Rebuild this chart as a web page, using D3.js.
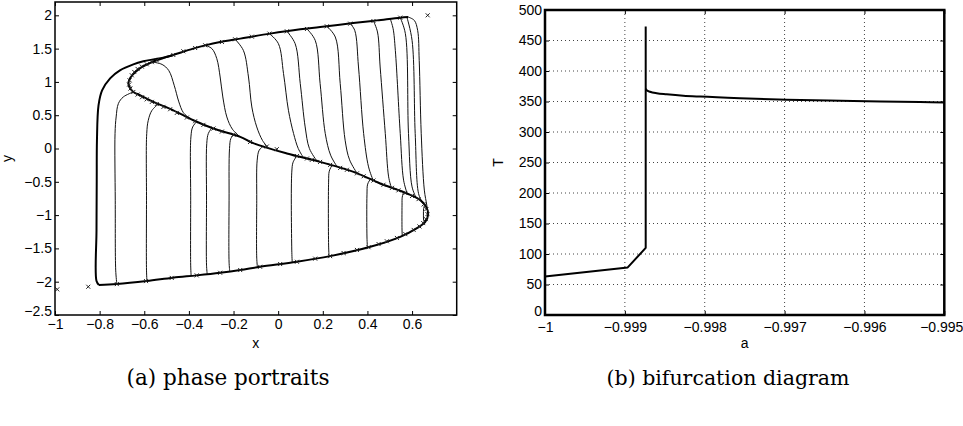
<!DOCTYPE html>
<html>
<head>
<meta charset="utf-8">
<script src="https://cdn.jsdelivr.net/npm/d3@7"></script>
<style>
  body { margin: 0; background: #fff; }
  svg { display: block; }
</style>
</head>
<body>
<svg id="fig" width="963" height="426"></svg>
<script>
// ---------- (a) phase portraits : points in (x, y) ----------
const xTicksA = [-1, -0.8, -0.6, -0.4, -0.2, 0, 0.2, 0.4, 0.6];
const yTicksA = [-2.5, -2, -1.5, -1, -0.5, 0, 0.5, 1, 1.5, 2];

// slow manifold (S-shaped branch), traced from lower-left corner to upper-right
const sCurve = [
  [-0.803,-2.050],[-0.723,-2.035],[-0.589,-1.990],[-0.471,-1.940],[-0.365,-1.905],
  [-0.260,-1.866],[-0.170,-1.825],[-0.081,-1.776],[0.084,-1.701],[0.233,-1.616],
  [0.413,-1.476],[0.547,-1.326],[0.622,-1.196],[0.659,-1.101],[0.672,-0.990],
  [0.664,-0.880],[0.637,-0.775],[0.577,-0.675],[0.457,-0.525],[0.338,-0.351],
  [0.188,-0.201],[0.039,-0.075],[-0.112,0.080],[-0.170,0.174],[-0.290,0.300],
  [-0.380,0.424],[-0.470,0.574],[-0.559,0.699],[-0.619,0.800],[-0.649,0.849],
  [-0.666,0.919],[-0.671,0.979],[-0.661,1.069],[-0.641,1.144],[-0.610,1.225],
  [-0.580,1.275],[-0.550,1.318],[-0.515,1.358],[-0.470,1.405],[-0.381,1.500],[-0.327,1.549],
  [-0.260,1.599],[-0.170,1.650],[-0.036,1.725],[0.099,1.790],[0.188,1.824],
  [0.336,1.884],[0.443,1.924],[0.547,1.965],[0.583,1.974]
];

// outer jump along the left edge
const leftEdge = [
  [-0.803,-2.050],[-0.814,-1.990],[-0.814,-1.225],[-0.813,-0.475],[-0.812,0.125],
  [-0.805,0.649],[-0.789,0.874],[-0.753,1.054],[-0.709,1.174],[-0.649,1.264],
  [-0.604,1.309],[-0.560,1.338],[-0.515,1.365],[-0.470,1.405]
];

// trajectories dropping from the upper branch to the middle branch
const upperPaths = [
  [[-0.566,1.300],[-0.520,1.262],[-0.490,1.170],[-0.466,0.950],[-0.445,0.700],[-0.425,0.540],[-0.395,0.449]],
  [[-0.327,1.550],[-0.297,1.500],[-0.275,1.350],[-0.260,1.074],[-0.248,0.774],[-0.230,0.474],[-0.205,0.290],[-0.170,0.174]],
  [[-0.193,1.640],[-0.156,1.474],[-0.133,1.074],[-0.118,0.624],[-0.096,0.324],[-0.070,0.120],[-0.045,0.012]],
  [[-0.039,1.725],[0.001,1.575],[0.024,1.125],[0.046,0.574],[0.069,0.225],[0.090,0.000],[0.113,-0.135]],
  [[0.039,1.760],[0.076,1.575],[0.099,0.975],[0.121,0.324],[0.140,0.000],[0.174,-0.189]],
  [[0.129,1.795],[0.166,1.624],[0.188,0.975],[0.211,0.225],[0.235,-0.100],[0.265,-0.278]],
  [[0.218,1.835],[0.256,1.674],[0.278,0.975],[0.300,0.125],[0.320,-0.170],[0.354,-0.374]],
  [[0.323,1.875],[0.343,1.775],[0.360,1.224],[0.383,0.225],[0.405,-0.276],[0.426,-0.480]],
  [[0.427,1.914],[0.445,1.750],[0.457,1.224],[0.480,0.225],[0.495,-0.426],[0.507,-0.586]],
  [[0.502,1.950],[0.515,1.800],[0.525,1.474],[0.547,0.225],[0.562,-0.475],[0.578,-0.676]],
  [[0.547,1.965],[0.570,1.725],[0.584,0.225],[0.600,-0.576],[0.619,-0.745]],
  [[0.577,1.970],[0.600,1.624],[0.614,0.225],[0.629,-0.675],[0.645,-0.806]],
  [[0.583,1.974],[0.610,1.924],[0.625,1.774],[0.632,1.324],[0.641,0.229],[0.655,-0.625],[0.666,-0.850],[0.672,-0.990]]
];

// trajectories dropping from the middle branch to the lower branch
const lowerPaths = [
  [[-0.649,0.849],[-0.694,0.774],[-0.716,0.675],[-0.726,0.474],[-0.731,0.225],[-0.730,-0.776],[-0.728,-1.826],[-0.723,-2.035]],
  [[-0.537,0.668],[-0.566,0.570],[-0.582,0.424],[-0.589,0.225],[-0.590,-0.776],[-0.590,-1.826],[-0.588,-1.990]],
  [[-0.365,0.403],[-0.383,0.324],[-0.391,0.174],[-0.392,-0.776],[-0.392,-1.751],[-0.390,-1.913]],
  [[-0.297,0.310],[-0.313,0.225],[-0.320,0.075],[-0.321,-0.776],[-0.321,-1.751],[-0.318,-1.888]],
  [[-0.200,0.206],[-0.212,0.150],[-0.218,0.000],[-0.220,-0.776],[-0.220,-1.706],[-0.217,-1.846]],
  [[-0.067,0.034],[-0.085,-0.025],[-0.094,-0.175],[-0.096,-0.776],[-0.096,-1.646],[-0.093,-1.783]],
  [[0.084,-0.113],[0.067,-0.205],[0.061,-0.355],[0.061,-1.525],[0.063,-1.711]],
  [[0.241,-0.254],[0.229,-0.340],[0.226,-0.505],[0.226,-1.450],[0.228,-1.619]],
  [[0.413,-0.461],[0.401,-0.535],[0.398,-0.685],[0.398,-1.345],[0.400,-1.486]],
  [[0.562,-0.656],[0.556,-0.730],[0.555,-0.850],[0.555,-1.225],[0.556,-1.310]],
  [[0.657,-0.840],[0.652,-0.900],[0.651,-1.000],[0.652,-1.080],[0.656,-1.109]]
];

// sampled states along the branches
const markerPts = [
  [-0.656,1.100],[-0.645,1.150],[-0.630,1.195],[-0.611,1.230],[-0.589,1.265],[-0.566,1.297],
  [-0.544,1.325],[-0.470,1.405],[-0.425,1.460],[-0.372,1.509],[-0.327,1.550],[-0.252,1.600],
  [-0.193,1.640],[-0.118,1.680],[-0.039,1.725],[0.039,1.760],[0.129,1.795],[0.218,1.835],
  [0.323,1.875],[0.427,1.914],[0.547,1.965],
  [-0.666,1.025],[-0.668,0.960],[-0.662,0.900],[-0.649,0.849],[-0.630,0.810],[-0.610,0.770],
  [-0.589,0.738],[-0.566,0.700],[-0.544,0.668],[-0.514,0.625],[-0.484,0.590],[-0.454,0.535],
  [-0.409,0.465],[-0.372,0.410],[-0.335,0.355],[-0.290,0.300],[-0.252,0.255],[-0.200,0.206],
  [-0.126,0.098],[-0.051,0.030],[-0.006,-0.010],[0.084,-0.113],[0.129,-0.150],[0.151,-0.170],
  [0.188,-0.201],[0.233,-0.246],[0.278,-0.291],[0.308,-0.320],[0.353,-0.373],[0.383,-0.417],
  [0.427,-0.481],[0.472,-0.544],[0.510,-0.591],[0.539,-0.628],[0.570,-0.667],[0.600,-0.713],
  [0.629,-0.760],[0.652,-0.840],[0.664,-0.910],[0.669,-0.985],[0.662,-1.060],[0.650,-1.120],
  [0.633,-1.170],[0.607,-1.222],[0.570,-1.286],[0.532,-1.343],[0.487,-1.393],[0.450,-1.435],
  [0.405,-1.482],[0.353,-1.523],[0.293,-1.569],[0.233,-1.616],[0.166,-1.654],[0.084,-1.701],
  [0.009,-1.735],[-0.081,-1.776],[-0.170,-1.825],[-0.260,-1.866],[-0.365,-1.905],
  [-0.477,-1.943],[-0.592,-1.991],[-0.723,-2.036]
];
const isolatedPts = [[0.670,2.000],[-0.851,-2.076],[-0.990,-2.115]];

// ---------- (b) bifurcation diagram : period T against parameter a ----------
const aTicks = [-1, -0.999, -0.998, -0.997, -0.996, -0.995];
const tTicks = [0, 50, 100, 150, 200, 250, 300, 350, 400, 450, 500];
const aLow  = [-1, -0.998964, -0.998739, -0.998739];
const TLow  = [63, 78, 110, 473];
const aHigh = [-0.998739, -0.998727, -0.998685, -0.998601, -0.998476, -0.998268,
               -0.998059, -0.997558, -0.996973, -0.996140, -0.995304, -0.995];
const THigh = [371, 368.5, 366, 363.5, 361.8, 359.5, 358, 355.3, 353, 351, 349, 348.5];

// ---------- drawing ----------
const svg = d3.select("#fig");
const FONT = "'Liberation Sans', Arial, Helvetica, sans-serif";
const fmt = d => String(d).replace("-", "\u2212");

function styleAxis(g) {
  g.attr("font-family", FONT).attr("font-size", 14);
  g.select(".domain").remove();
  g.selectAll(".tick line").attr("stroke", "#000").attr("stroke-width", 1);
  g.selectAll(".tick text").attr("fill", "#000");
}

function frame(g, box, x, y, xt, yt, labelX, labelY, boxWidth, xPad) {
  const w = box.r - box.l, h = box.b - box.t;
  const bottom = g.append("g").attr("transform", `translate(0,${box.b})`)
    .call(d3.axisBottom(x).tickValues(xt).tickSize(-4).tickPadding(xPad).tickFormat(fmt))
    .call(styleAxis);
  g.append("g").attr("transform", `translate(0,${box.t})`)
    .call(d3.axisTop(x).tickValues(xt).tickSize(-4).tickFormat(""))
    .call(styleAxis);
  const left = g.append("g").attr("transform", `translate(${box.l},0)`)
    .call(d3.axisLeft(y).tickValues(yt).tickSize(-4).tickPadding(3).tickFormat(fmt))
    .call(styleAxis);
  // lift the lowest y label a little so it clears the first x label
  left.selectAll(".tick text").filter(d => d === yt[0]).attr("dy", "0.05em");
  g.append("g").attr("transform", `translate(${box.r},0)`)
    .call(d3.axisRight(y).tickValues(yt).tickSize(-4).tickFormat(""))
    .call(styleAxis);
  g.append("rect").attr("x", box.l).attr("y", box.t).attr("width", w).attr("height", h)
    .attr("fill", "none").attr("stroke", "#000").attr("stroke-width", boxWidth);
  g.append("text").attr("x", (box.l + box.r) / 2).attr("y", box.b + 33)
    .attr("text-anchor", "middle").attr("font-family", FONT).attr("font-size", 14)
    .text(labelX);
  g.append("text")
    .attr("transform", `translate(${labelY.x},${(box.t + box.b) / 2}) rotate(-90)`)
    .attr("text-anchor", "middle").attr("font-family", FONT).attr("font-size", 14)
    .text(labelY.text);
  return bottom;
}

// panel (a)
const A = { l: 55, r: 456.7, t: 2, b: 315 };
const xA = d3.scaleLinear().domain([-1, 0.8]).range([A.l, A.r]);
const yA = d3.scaleLinear().domain([-2.5, 2.2]).range([A.b, A.t]);
const gA = svg.append("g");
gA.append("clipPath").attr("id", "clipA").append("rect")
  .attr("x", A.l).attr("y", A.t).attr("width", A.r - A.l).attr("height", A.b - A.t);
const plotA = gA.append("g").attr("clip-path", "url(#clipA)");
const lineA = d3.line().x(d => xA(d[0])).y(d => yA(d[1])).curve(d3.curveCatmullRom.alpha(0.5));

plotA.selectAll("path.up").data(upperPaths).join("path").attr("class", "up")
  .attr("d", lineA).attr("fill", "none").attr("stroke", "#111").attr("stroke-width", 1);
plotA.selectAll("path.lo").data(lowerPaths).join("path").attr("class", "lo")
  .attr("d", lineA).attr("fill", "none").attr("stroke", "#111").attr("stroke-width", 1);
plotA.append("path").datum(sCurve).attr("d", lineA).attr("fill", "none")
  .attr("stroke", "#000").attr("stroke-width", 2);
plotA.append("path").datum(leftEdge).attr("d", lineA).attr("fill", "none")
  .attr("stroke", "#000").attr("stroke-width", 2);
const cross = "M-2,-2L2,2M-2,2L2,-2";
plotA.selectAll("path.mk").data(markerPts.concat(isolatedPts)).join("path").attr("class", "mk")
  .attr("transform", d => `translate(${xA(d[0])},${yA(d[1])})`)
  .attr("d", cross).attr("fill", "none").attr("stroke", "#222").attr("stroke-width", 1);

frame(gA, A, xA, yA, xTicksA, yTicksA, "x", { x: 12, text: "y" }, 1.5, 4);

// panel (b)
const B = { l: 545, r: 944.3, t: 10, b: 315 };
const xB = d3.scaleLinear().domain([-1, -0.995]).range([B.l, B.r]);
const yB = d3.scaleLinear().domain([0, 500]).range([B.b, B.t]);
const gB = svg.append("g");
// dotted grid
gB.append("g").selectAll("line").data(aTicks.slice(1, -1)).join("line")
  .attr("x1", d => xB(d)).attr("x2", d => xB(d)).attr("y1", B.t).attr("y2", B.b)
  .attr("stroke", "#444").attr("stroke-width", 1).attr("stroke-dasharray", "1,3");
gB.append("g").selectAll("line").data(tTicks.slice(1, -1)).join("line")
  .attr("y1", d => yB(d)).attr("y2", d => yB(d)).attr("x1", B.l).attr("x2", B.r)
  .attr("stroke", "#444").attr("stroke-width", 1).attr("stroke-dasharray", "1,3");

const lineB = d3.line().x(d => xB(d[0])).y(d => yB(d[1]));
gB.append("path").datum(d3.zip(aLow, TLow)).attr("d", lineB).attr("fill", "none")
  .attr("stroke", "#000").attr("stroke-width", 2).attr("stroke-linejoin", "round");
gB.append("path").datum(d3.zip(aHigh, THigh)).attr("d", lineB.curve(d3.curveMonotoneX))
  .attr("fill", "none").attr("stroke", "#000").attr("stroke-width", 2);

const bottomB = frame(gB, B, xB, yB, aTicks, tTicks, "a", { x: 503, text: "T" }, 2.5, 7);
// keep the last tick label inside the page
bottomB.selectAll(".tick text").filter(d => d === -0.995).attr("dx", -3);

// sub-figure captions
const captions = [
  { text: "(a) phase portraits", cx: 228, width: 203 },
  { text: "(b) bifurcation diagram", cx: 728, width: 243 }
];
captions.forEach(c => {
  const t = svg.append("text").attr("x", c.cx).attr("y", 385)
    .attr("text-anchor", "middle").attr("font-family", "'DejaVu Serif', serif")
    .attr("font-size", 20).attr("fill", "#000").text(c.text);
  const len = t.node().getComputedTextLength();
  t.attr("font-size", 20 * c.width / len);
});
</script>
</body>
</html>
